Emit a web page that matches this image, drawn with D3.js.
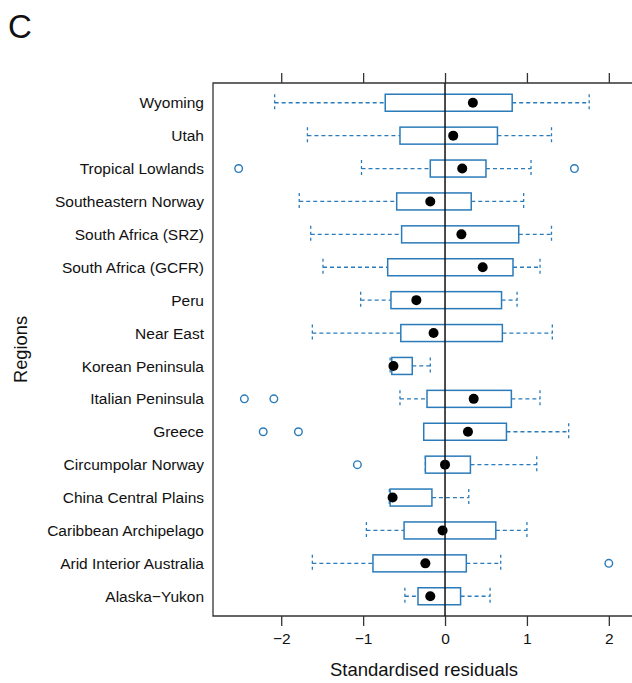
<!DOCTYPE html>
<html>
<head>
  <meta charset="utf-8">
  <title>Standardised residuals by region</title>
  <style type="text/css">
    body {
      margin: 0;
      background: white;
    }
    svg text {
      font-family: "Liberation Sans", Arial, sans-serif;
      fill: #111;
    }
  </style>
  <script src="https://d3js.org/d3.v7.min.js"></script>
</head>
<body>
  <div id="chart"></div>
  <script>
    // regions, top to bottom
    var regions = ['Wyoming', 'Utah', 'Tropical Lowlands', 'Southeastern Norway',
      'South Africa (SRZ)', 'South Africa (GCFR)', 'Peru', 'Near East',
      'Korean Peninsula', 'Italian Peninsula', 'Greece', 'Circumpolar Norway',
      'China Central Plains', 'Caribbean Archipelago', 'Arid Interior Australia',
      'Alaska\u2212Yukon'];
    var whiskerLow  = [-2.08, -1.68, -1.02, -1.78, -1.64, -1.49, -1.03, -1.62, -0.67, -0.55, -0.26, -0.24, -0.68, -0.96, -1.62, -0.49];
    var q1          = [-0.73, -0.55, -0.18, -0.59, -0.53, -0.70, -0.66, -0.54, -0.65, -0.22, -0.26, -0.24, -0.67, -0.50, -0.88, -0.33];
    var q3          = [0.82, 0.64, 0.50, 0.32, 0.90, 0.83, 0.69, 0.70, -0.40, 0.81, 0.75, 0.31, -0.16, 0.62, 0.26, 0.19];
    var whiskerHigh = [1.76, 1.30, 1.05, 0.96, 1.30, 1.16, 0.88, 1.31, -0.18, 1.16, 1.51, 1.12, 0.29, 1.00, 0.68, 0.55];
    var means       = [0.34, 0.10, 0.21, -0.18, 0.20, 0.46, -0.35, -0.14, -0.63, 0.35, 0.28, 0.00, -0.64, -0.03, -0.24, -0.18];
    var outliers = [
      ['Tropical Lowlands', -2.52], ['Tropical Lowlands', 1.58],
      ['Italian Peninsula', -2.45], ['Italian Peninsula', -2.09],
      ['Greece', -2.22], ['Greece', -1.79],
      ['Circumpolar Norway', -1.07],
      ['Arid Interior Australia', 2.00]
    ];
    var xTicks = [-2, -1, 0, 1, 2];

    var width = 632, height = 683;
    var margin = {top: 83, left: 213, bottom: 67};
    var blue = '#2b7bba';

    var svg = d3.select('#chart').append('svg')
      .attr('width', width)
      .attr('height', height);

    var x = d3.scaleLinear()
      .domain([-2.833, 2.5])
      .range([margin.left, margin.left + 5.333 * 81.9]);

    var y = d3.scalePoint()
      .domain(regions)
      .range([margin.top, height - margin.bottom])
      .padding(0.6);

    var bottom = height - margin.bottom;
    var boxH = 17;

    var rows = regions.map(function (r, i) {
      return {name: r, lo: whiskerLow[i], q1: q1[i], q3: q3[i], hi: whiskerHigh[i], mean: means[i]};
    });

    // frame (right side runs off the picture)
    svg.append('path')
      .attr('d', 'M' + (width + 5) + ',' + margin.top + 'H' + margin.left + 'V' + bottom + 'H' + (width + 5))
      .attr('fill', 'none')
      .attr('stroke', '#333')
      .attr('stroke-width', 1.3);

    // top axis: ticks only
    svg.append('g')
      .attr('transform', 'translate(0,' + margin.top + ')')
      .call(d3.axisTop(x).tickValues(xTicks).tickSize(10).tickFormat(''))
      .call(function (g) { g.select('.domain').remove(); })
      .selectAll('line').attr('stroke', '#333').attr('stroke-width', 1.3);

    // bottom axis
    var xb = svg.append('g')
      .attr('transform', 'translate(0,' + bottom + ')')
      .call(d3.axisBottom(x).tickValues(xTicks).tickSize(10).tickPadding(7)
        .tickFormat(function (d) { return d < 0 ? '\u2212' + Math.abs(d) : d; }));
    xb.select('.domain').remove();
    xb.selectAll('line').attr('stroke', '#333').attr('stroke-width', 1.3);
    xb.selectAll('text').attr('font-size', 15.5).style('fill', '#111')
      .attr('font-family', '"Liberation Sans", Arial, sans-serif');

    // region labels
    svg.append('g').selectAll('text')
      .data(regions)
      .enter().append('text')
      .attr('x', 204)
      .attr('y', function (d) { return y(d); })
      .attr('dy', '0.36em')
      .attr('text-anchor', 'end')
      .attr('font-size', 15.5)
      .text(function (d) { return d; });

    var g = svg.append('g');

    // whiskers
    g.selectAll('.whisk-lo').data(rows).enter().append('line')
      .attr('x1', function (d) { return x(d.lo); })
      .attr('x2', function (d) { return x(d.q1); })
      .attr('y1', function (d) { return y(d.name); })
      .attr('y2', function (d) { return y(d.name); })
      .attr('stroke', blue).attr('stroke-width', 1.3).attr('stroke-dasharray', '4,3');
    g.selectAll('.whisk-hi').data(rows).enter().append('line')
      .attr('x1', function (d) { return x(d.q3); })
      .attr('x2', function (d) { return x(d.hi); })
      .attr('y1', function (d) { return y(d.name); })
      .attr('y2', function (d) { return y(d.name); })
      .attr('stroke', blue).attr('stroke-width', 1.3).attr('stroke-dasharray', '4,3');

    // whisker end caps (dashed vertical)
    ['lo', 'hi'].forEach(function (k) {
      g.selectAll('.cap-' + k).data(rows).enter().append('line')
        .attr('x1', function (d) { return x(d[k]); })
        .attr('x2', function (d) { return x(d[k]); })
        .attr('y1', function (d) { return y(d.name) - boxH / 2; })
        .attr('y2', function (d) { return y(d.name) + boxH / 2; })
        .attr('stroke', blue).attr('stroke-width', 1.3).attr('stroke-dasharray', '3,3');
    });

    // boxes
    g.selectAll('rect').data(rows).enter().append('rect')
      .attr('x', function (d) { return x(d.q1); })
      .attr('y', function (d) { return y(d.name) - boxH / 2; })
      .attr('width', function (d) { return x(d.q3) - x(d.q1); })
      .attr('height', boxH)
      .attr('fill', 'white')
      .attr('stroke', blue)
      .attr('stroke-width', 1.5);

    // outliers
    g.selectAll('.out').data(outliers).enter().append('circle')
      .attr('cx', function (d) { return x(d[1]); })
      .attr('cy', function (d) { return y(d[0]); })
      .attr('r', 3.8)
      .attr('fill', 'none')
      .attr('stroke', blue)
      .attr('stroke-width', 1.4);

    // zero line
    svg.append('line')
      .attr('x1', x(0)).attr('x2', x(0))
      .attr('y1', margin.top).attr('y2', bottom)
      .attr('stroke', '#111').attr('stroke-width', 1.5);

    // means
    g.selectAll('.mean').data(rows).enter().append('circle')
      .attr('cx', function (d) { return x(d.mean); })
      .attr('cy', function (d) { return y(d.name); })
      .attr('r', 5)
      .attr('fill', 'black');

    // titles
    svg.append('text')
      .attr('x', x(0) - 21)
      .attr('y', 676)
      .attr('text-anchor', 'middle')
      .attr('font-size', 18.5)
      .text('Standardised residuals');

    svg.append('text')
      .attr('transform', 'translate(27,' + (height - margin.bottom + margin.top) / 2 + ') rotate(-90)')
      .attr('text-anchor', 'middle')
      .attr('font-size', 18.3)
      .text('Regions');

    svg.append('text')
      .attr('x', 8)
      .attr('y', 38)
      .attr('font-size', 33)
      .text('C');
  </script>
</body>
</html>
